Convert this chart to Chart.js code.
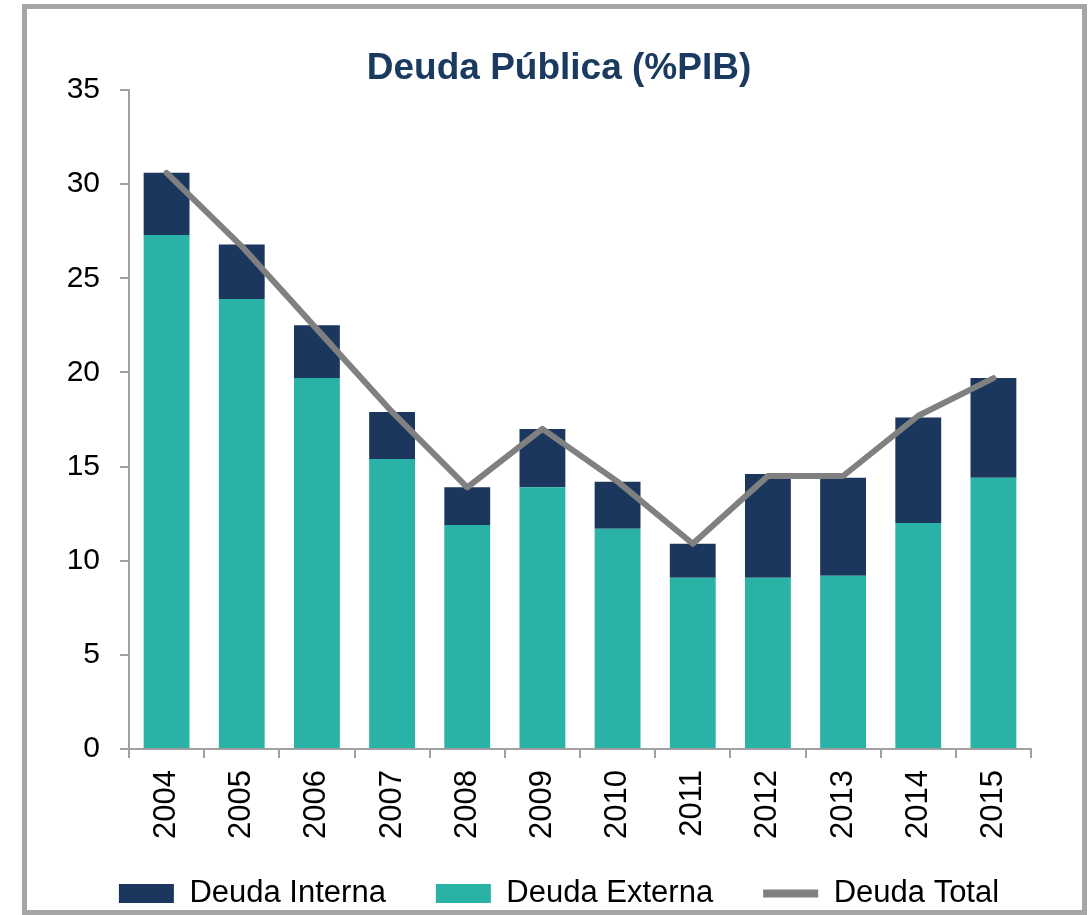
<!DOCTYPE html>
<html>
<head>
<meta charset="utf-8">
<script src="https://cdn.jsdelivr.net/npm/chart.js@4/dist/chart.umd.min.js"></script>
<style>
  body { margin: 0; background: #fff; }
  #marco {
    position: absolute; left: 22px; top: 4px;
    width: 1055px; height: 901px;
    border: 5px solid #a6a6a6; background: #fff;
  }
</style>
</head>
<body>
<div id="marco"><canvas id="grafico" width="1055" height="901"></canvas></div>
<script>
// datos
var anios = ["2004", "2005", "2006", "2007", "2008", "2009", "2010", "2011", "2012", "2013", "2014", "2015"];
var deudaExterna = [27.3, 23.9, 19.7, 15.4, 11.9, 13.9, 11.7, 9.1, 9.1, 9.2, 12.0, 14.4];
var deudaInterna = [3.3, 2.9, 2.8, 2.5, 2.0, 3.1, 2.5, 1.8, 5.5, 5.2, 5.6, 5.3];
var deudaTotal = [30.6, 26.7, 22.3, 17.9, 13.9, 17.0, 14.2, 10.9, 14.5, 14.5, 17.7, 19.7];
var ticksY = [0, 5, 10, 15, 20, 25, 30, 35];

var azul = "#1b375d";
var verde = "#2ab2a6";
var gris = "#808080";
var ejes = "#a0a0a0";
var fuente = "'Liberation Sans', Arial, sans-serif";

// orden de la leyenda: Interna, Externa, Total
var ordenLeyenda = { 1: 0, 0: 1, 2: 2 };

// los años giran y se salen un poco del alto del eje: no recortarlos
Chart.CategoryScale.prototype._computeLabelArea = function () { return undefined; };

const data = {
  labels: anios,
  datasets: [
    {
      type: "bar",
      label: "Deuda Externa",
      data: deudaExterna,
      backgroundColor: verde,
      borderWidth: 0,
      pointStyle: "rect",
      order: 1,
    },
    {
      type: "bar",
      label: "Deuda Interna",
      data: deudaInterna,
      backgroundColor: azul,
      borderWidth: 0,
      pointStyle: "rect",
      order: 1,
    },
    {
      type: "line",
      label: "Deuda Total",
      data: deudaTotal,
      stack: "total",
      borderColor: gris,
      backgroundColor: gris,
      borderWidth: 6,
      borderCapStyle: "round",
      borderJoinStyle: "round",
      pointRadius: 0,
      pointStyle: "line",
      tension: 0,
      order: -1,
    },
  ],
};

const config = {
  type: "bar",
  data: data,
  options: {
    responsive: false,
    animation: false,
    layout: { padding: { left: 9, right: 0, top: 0, bottom: -9 } },
    datasets: { bar: { categoryPercentage: 1, barPercentage: 0.61 } },
    plugins: {
      tooltip: { enabled: false },
      title: {
        display: true,
        text: "Deuda Pública (%PIB)",
        color: "#1b3a60",
        font: { family: fuente, size: 37, weight: "bold", lineHeight: 1 },
        padding: { top: 41, bottom: 3 },
      },
      legend: {
        position: "bottom",
        labels: {
          usePointStyle: true,
          pointStyleWidth: 55,
          boxHeight: 19,
          padding: 50,
          color: "#000",
          font: { family: fuente, size: 31 },
          sort: (a, b) => ordenLeyenda[a.datasetIndex] - ordenLeyenda[b.datasetIndex],
          generateLabels: (chart) => {
            var items = Chart.defaults.plugins.legend.labels.generateLabels(chart);
            items.forEach((it) => { if (it.datasetIndex === 2) it.lineWidth = 8; });
            return items;
          },
        },
      },
    },
    scales: {
      x: {
        stacked: true,
        offset: true,
        afterFit: (eje) => { eje.height = 79; },
        grid: {
          offset: true,
          drawOnChartArea: false,
          tickLength: 9,
          color: ejes,
          lineWidth: 2,
        },
        border: { color: ejes, width: 2 },
        ticks: {
          minRotation: 90,
          maxRotation: 90,
          padding: 12,
          color: "#000",
          font: { family: fuente, size: 31 },
        },
      },
      y: {
        stacked: true,
        min: 0,
        max: 35,
        afterBuildTicks: (eje) => { eje.ticks = ticksY.map((v) => ({ value: v })); },
        afterFit: (eje) => { eje.width = 93; },
        grid: {
          drawOnChartArea: false,
          tickLength: 9,
          color: ejes,
          lineWidth: 2,
        },
        border: { color: ejes, width: 2 },
        ticks: {
          padding: 20,
          color: "#000",
          font: { family: fuente, size: 30 },
        },
      },
      // eje vacio a la derecha solo para dejar margen
      margen: {
        axis: "y",
        type: "linear",
        position: "right",
        grid: { display: false },
        border: { display: false },
        ticks: { display: false },
        afterFit: (eje) => { eje.width = 51; },
      },
    },
  },
};

new Chart(document.getElementById("grafico"), config);
</script>
</body>
</html>
